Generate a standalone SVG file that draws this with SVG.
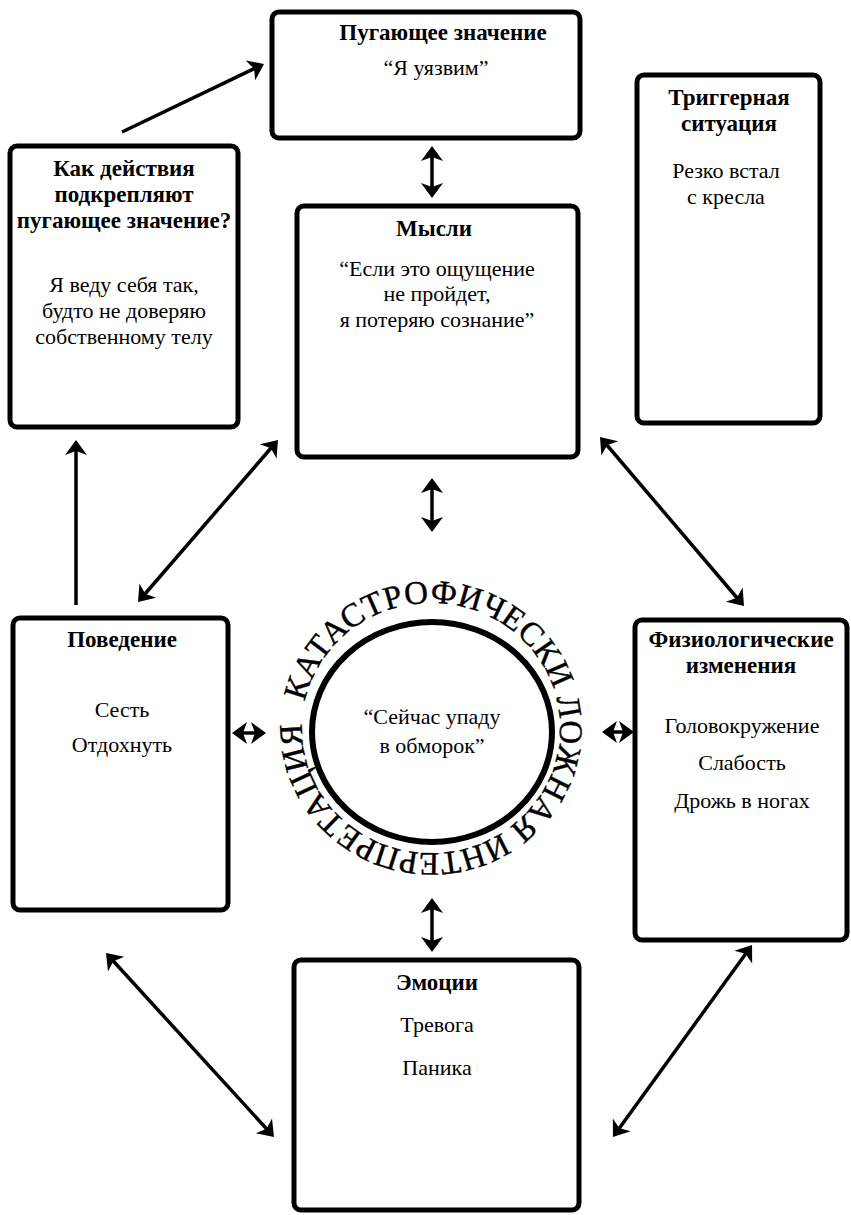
<svg xmlns="http://www.w3.org/2000/svg" width="851" height="1215" viewBox="0 0 851 1215">
<style>
.box{fill:#fff;stroke:#000;stroke-width:5}
.t{font-family:"Liberation Serif","Times New Roman",serif;font-size:22px;fill:#000;text-anchor:middle}
.b{font-weight:bold;font-size:23px}
.c{stroke:#000;stroke-width:3.5;fill:none}
.ring{font-family:"Liberation Serif","Times New Roman",serif;font-size:33px;fill:#000;stroke:#000;stroke-width:0.4}
</style>
<defs>
<marker id="ah" viewBox="-12 -12 18 24" markerWidth="18" markerHeight="24" refX="0" refY="0" orient="auto-start-reverse" markerUnits="userSpaceOnUse">
<path d="M4,0 L-11,-11 L-7,0 L-11,11 Z" fill="#000"/>
</marker>
<path id="arc" d="M304.8,702 A129,125 0 1,1 557.2,754 A129,125 0 1,1 304.8,702"/>
</defs>
<rect width="851" height="1215" fill="#fff"/>

<g id="connectors">
<line class="c" x1="122" y1="132" x2="260.4" y2="65.7" marker-end="url(#ah)"/>
<line class="c" x1="76" y1="605" x2="76" y2="444" marker-end="url(#ah)"/>
<line class="c" x1="432" y1="150" x2="432" y2="194" marker-start="url(#ah)" marker-end="url(#ah)"/>
<line class="c" x1="432" y1="482" x2="432" y2="528" marker-start="url(#ah)" marker-end="url(#ah)"/>
<line class="c" x1="432" y1="902" x2="432" y2="948" marker-start="url(#ah)" marker-end="url(#ah)"/>
<line class="c" x1="236" y1="733" x2="262" y2="733" marker-start="url(#ah)" marker-end="url(#ah)"/>
<line class="c" x1="606" y1="732" x2="630" y2="732" marker-start="url(#ah)" marker-end="url(#ah)"/>
<line class="c" x1="275.4" y1="443" x2="140.6" y2="599" marker-start="url(#ah)" marker-end="url(#ah)"/>
<line class="c" x1="602.6" y1="440" x2="741.4" y2="603" marker-start="url(#ah)" marker-end="url(#ah)"/>
<line class="c" x1="108.7" y1="956" x2="271.3" y2="1134" marker-start="url(#ah)" marker-end="url(#ah)"/>
<line class="c" x1="749.7" y1="948.2" x2="615.3" y2="1133.8" marker-start="url(#ah)" marker-end="url(#ah)"/>
</g>

<g id="meaning">
<rect class="box" x="272" y="12" width="308" height="126" rx="7"/>
<text class="t b" x="443" y="40">Пугающее значение</text>
<text class="t" x="436" y="75">“Я уязвим”</text>
</g>

<g id="actions">
<rect class="box" x="10" y="146" width="228" height="281" rx="7"/>
<text class="t b" x="124" y="176">Как действия</text>
<text class="t b" x="124" y="202">подкрепляют</text>
<text class="t b" x="124" y="228">пугающее значение?</text>
<text class="t" x="124" y="292">Я веду себя так,</text>
<text class="t" x="124" y="318">будто не доверяю</text>
<text class="t" x="124" y="344">собственному телу</text>
</g>

<g id="trigger">
<rect class="box" x="637" y="75" width="183" height="348" rx="7"/>
<text class="t b" x="729" y="105">Триггерная</text>
<text class="t b" x="729" y="131">ситуация</text>
<text class="t" x="726" y="178">Резко встал</text>
<text class="t" x="726" y="204">с кресла</text>
</g>

<g id="thoughts">
<rect class="box" x="297" y="206" width="281" height="251" rx="7"/>
<text class="t b" x="434" y="236">Мысли</text>
<text class="t" x="437" y="276">“Если это ощущение</text>
<text class="t" x="437" y="301">не пройдет,</text>
<text class="t" x="437" y="327">я потеряю сознание”</text>
</g>

<g id="behavior">
<rect class="box" x="13" y="618" width="215" height="292" rx="7"/>
<text class="t b" x="122" y="647">Поведение</text>
<text class="t" x="122" y="717">Сесть</text>
<text class="t" x="122" y="752">Отдохнуть</text>
</g>

<g id="physio">
<rect class="box" x="635" y="620" width="212" height="320" rx="7"/>
<text class="t b" x="741" y="647">Физиологические</text>
<text class="t b" x="741" y="673">изменения</text>
<text class="t" x="742" y="733">Головокружение</text>
<text class="t" x="742" y="770">Слабость</text>
<text class="t" x="742" y="808">Дрожь в ногах</text>
</g>

<g id="emotions">
<rect class="box" x="294" y="960" width="285" height="250" rx="7"/>
<text class="t b" x="437" y="990">Эмоции</text>
<text class="t" x="437" y="1032">Тревога</text>
<text class="t" x="437" y="1075">Паника</text>
</g>

<g id="misinterpretation">
<ellipse cx="432" cy="732" rx="120" ry="110" fill="#fff" stroke="#000" stroke-width="6"/>
<text class="ring" textLength="333.6" lengthAdjust="spacing"><textPath href="#arc" startOffset="0">КАТАСТРОФИЧЕСКИ</textPath></text>
<text class="ring" textLength="147.2" lengthAdjust="spacing"><textPath href="#arc" startOffset="341.7">ЛОЖНАЯ</textPath></text>
<text class="ring" textLength="166.2" lengthAdjust="spacing"><textPath href="#arc" startOffset="497">ИНТЕРПРЕ</textPath></text>
<text class="ring" textLength="111.8" lengthAdjust="spacing"><textPath href="#arc" startOffset="664.2">ТАЦИЯ</textPath></text>
<text class="t" x="432" y="724">“Сейчас упаду</text>
<text class="t" x="432" y="753">в обморок”</text>
</g>
</svg>
